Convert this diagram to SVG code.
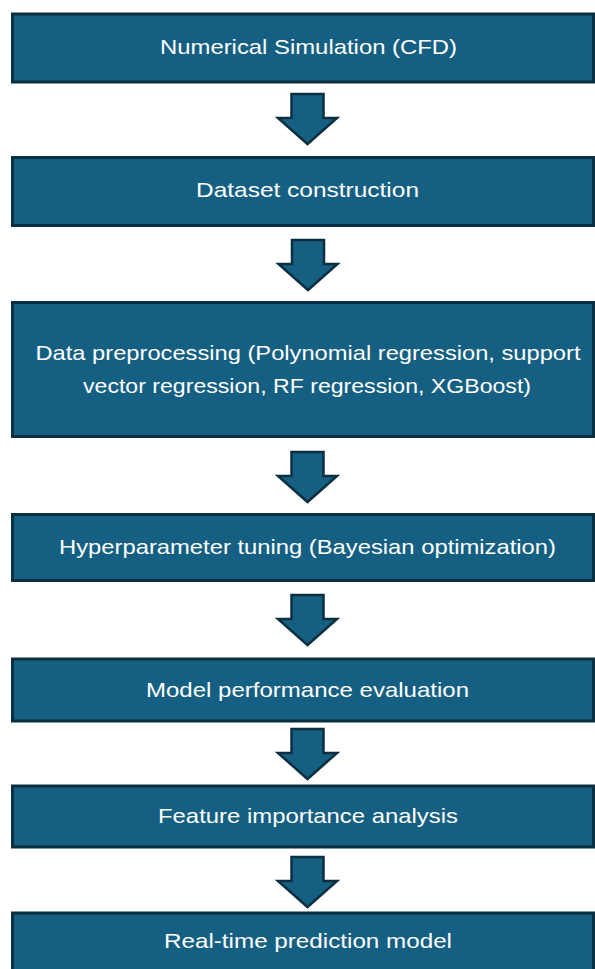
<svg xmlns="http://www.w3.org/2000/svg" width="595" height="969" viewBox="0 0 595 969">
<style>
.box{fill:#156082;stroke:#0a2f41;stroke-width:3}
.arr{fill:#156082;stroke:#0a2f41;stroke-width:2.5;stroke-linejoin:miter}
.t{fill:#ffffff;font-family:"Liberation Sans",Arial,sans-serif;font-size:21px;text-anchor:middle}
</style>
<rect width="595" height="969" fill="#ffffff"/>
<defs>
<path id="arrow" d="M-16,0 H16 V24 H29.5 L0,50 L-29.5,24 H-16 Z"/>
</defs>
<g id="connectors">
<use href="#arrow" class="arr" x="307.5" y="94"/>
<use href="#arrow" class="arr" x="308" y="240"/>
<use href="#arrow" class="arr" x="307.5" y="452"/>
<use href="#arrow" class="arr" x="307.5" y="595"/>
<use href="#arrow" class="arr" x="307.5" y="729"/>
<use href="#arrow" class="arr" x="307.5" y="857"/>
</g>
<g id="n1"><rect class="box" x="12.5" y="14" width="581" height="68"/><text class="t" x="308.5" y="54" textLength="297" lengthAdjust="spacingAndGlyphs">Numerical Simulation (CFD)</text></g>
<g id="n2"><rect class="box" x="12.5" y="157.5" width="581" height="68"/><text class="t" x="307.5" y="197" textLength="223" lengthAdjust="spacingAndGlyphs">Dataset construction</text></g>
<g id="n3"><rect class="box" x="12.5" y="302.5" width="581" height="134"/><text class="t" x="308" y="360" textLength="545" lengthAdjust="spacingAndGlyphs">Data preprocessing (Polynomial regression, support</text><text class="t" x="307" y="393" textLength="448" lengthAdjust="spacingAndGlyphs">vector regression, RF regression, XGBoost)</text></g>
<g id="n4"><rect class="box" x="12.5" y="514.5" width="581" height="66"/><text class="t" x="307.5" y="554" textLength="497" lengthAdjust="spacingAndGlyphs">Hyperparameter tuning (Bayesian optimization)</text></g>
<g id="n5"><rect class="box" x="12.5" y="659" width="581" height="62"/><text class="t" x="307.5" y="697" textLength="323" lengthAdjust="spacingAndGlyphs">Model performance evaluation</text></g>
<g id="n6"><rect class="box" x="12.5" y="786" width="581" height="61"/><text class="t" x="308" y="823" textLength="300" lengthAdjust="spacingAndGlyphs">Feature importance analysis</text></g>
<g id="n7"><rect class="box" x="12.5" y="913" width="581" height="70"/><text class="t" x="308" y="948" textLength="288" lengthAdjust="spacingAndGlyphs">Real-time prediction model</text></g>
</svg>
